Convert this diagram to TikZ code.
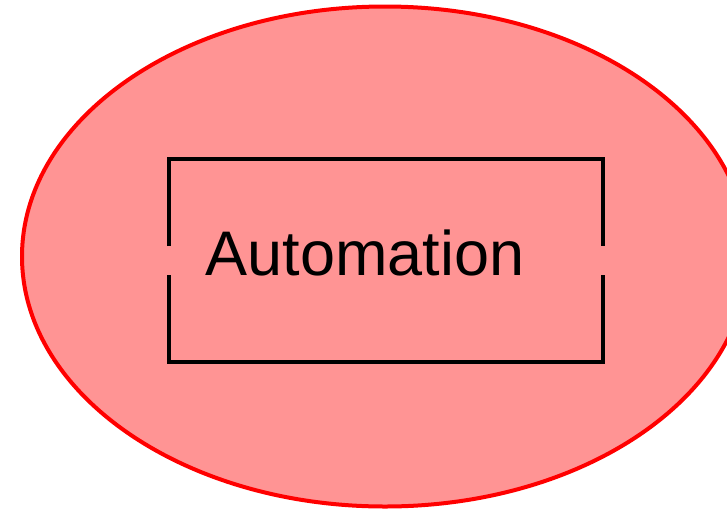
\documentclass[tikz,border=0pt]{standalone}
\usepackage{fontspec}
\setmainfont{Liberation Sans}
\usepackage{xcolor}
\usepackage{tikz}
\usetikzlibrary{shapes.geometric}

\definecolor{blobfill}{RGB}{255,148,148}
\definecolor{blobline}{RGB}{255,0,0}

\begin{document}
\begin{tikzpicture}[x=1pt, y=-1pt,
    blob/.style={ellipse, draw=blobline, fill=blobfill, line width=4pt,
                 minimum width=726pt, minimum height=500pt, inner sep=0pt},
    frame/.style={draw=black, line width=3.3pt, line join=miter}]
        \useasboundingbox (0,0) rectangle (727,509);

        % Outer ellipse
        \node[blob] (auto) at (385,256.5) {};

        % Box with gaps on both sides
        \coordinate (tl) at (169,159);
        \coordinate (tr) at (603,159);
        \coordinate (bl) at (169,362);
        \coordinate (br) at (603,362);
        \coordinate (lgapt) at (169,246);
        \coordinate (lgapb) at (169,275);
        \coordinate (rgapt) at (603,246);
        \coordinate (rgapb) at (603,275);
        \draw[frame] (lgapt) -- (tl) -- (tr) -- (rgapt);
        \draw[frame] (lgapb) -- (bl) -- (br) -- (rgapb);

        % Label
        \node[anchor=base, inner sep=0pt] (label) at (365,275)
            {\fontsize{63}{70}\selectfont Automation};
    \end{tikzpicture}
\end{document}
